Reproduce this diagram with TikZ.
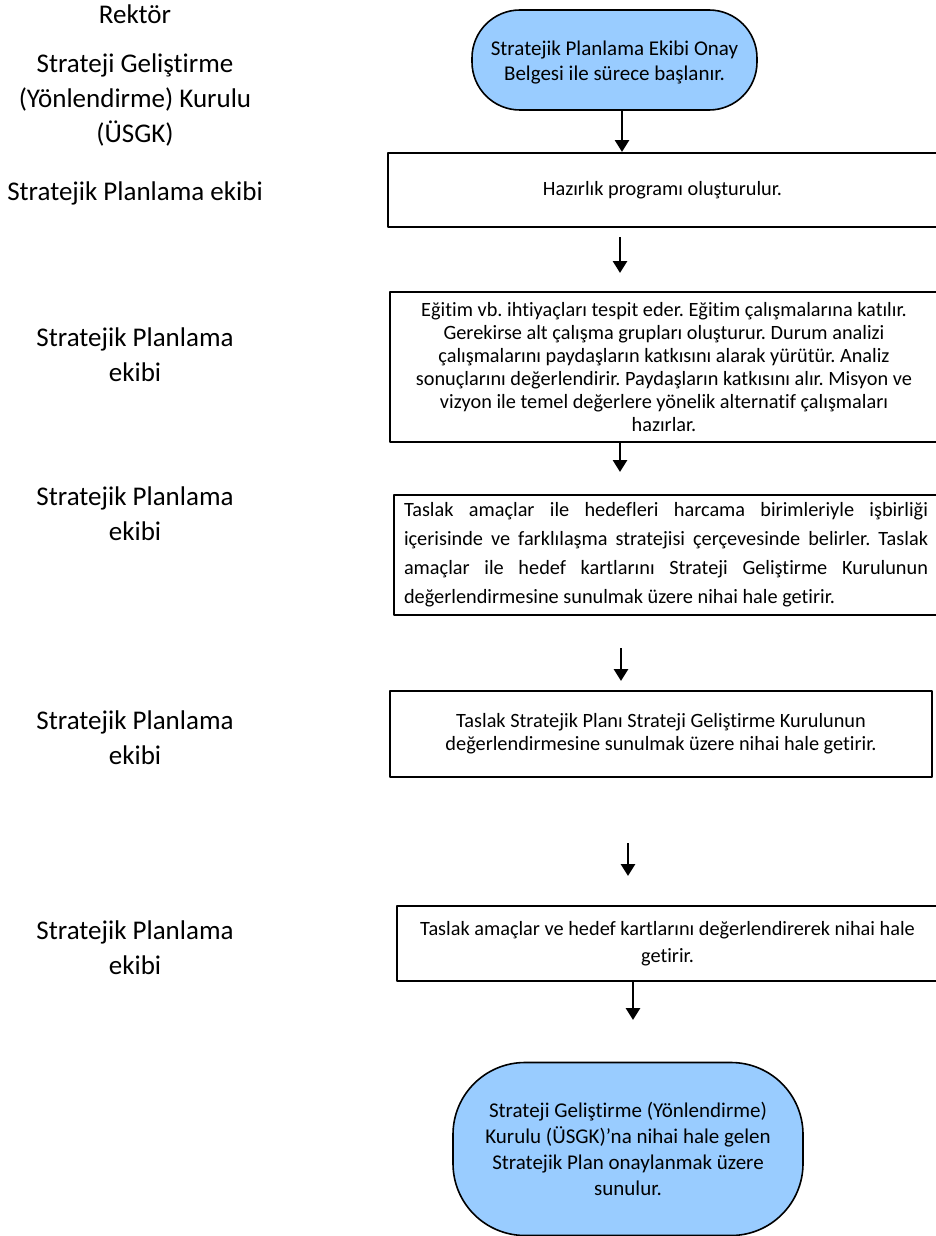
\documentclass[tikz,border=0pt]{standalone}
\usepackage{fontspec}
\setmainfont[Ligatures=NoCommon]{Carlito}
\usetikzlibrary{arrows.meta}
\definecolor{mavi}{RGB}{153,204,255}
\frenchspacing
\begin{document}
\begin{tikzpicture}[x=1pt,y=-1pt,>={Triangle[width=14pt,length=12pt]}, line join=round]
	\tikzset{
		kutu/.style={draw,line width=1.6pt,inner sep=0pt,align=center,font=\fontsize{20.3}{23}\selectfont},
		uc/.style={kutu,fill=mavi},
		rol/.style={align=center,font=\fontsize{27}{35}\selectfont},
		ok/.style={->,line width=2.8pt}
	}
	\useasboundingbox (0,0) rectangle (936,1236);
	
	% sol sutun
	\node[rol] (r1) at (135,14) {Rektör};
	\node[rol] (r2) at (135,100) {Strateji Geliştirme\\(Yönlendirme) Kurulu\\(ÜSGK)};
	\node[rol] (r3) at (135,193) {Stratejik Planlama ekibi};
	\node[rol] (r4) at (135,354.5) {Stratejik Planlama\\ekibi};
	\node[rol] (r5) at (135,514) {Stratejik Planlama\\ekibi};
	\node[rol] (r6) at (135,737.5) {Stratejik Planlama\\ekibi};
	\node[rol] (r7) at (135,947.5) {Stratejik Planlama\\ekibi};
	
	% akis
	\node[uc,minimum width=285pt,minimum height=100pt,rounded corners=48pt,font=\fontsize{21}{25}\selectfont] (t1) at (614.5,60) {\\[-6pt]Stratejik Planlama Ekibi Onay\\Belgesi ile sürece başlanır.};
	\node[kutu,minimum width=549pt,minimum height=74pt] (k1) at (662.5,190) {Hazırlık programı oluşturulur.};
	\node[kutu,minimum width=548pt,minimum height=150pt] (k2) at (664,367) {Eğitim vb. ihtiyaçları tespit eder. Eğitim çalışmalarına katılır.\\Gerekirse alt çalışma grupları oluşturur. Durum analizi\\çalışmalarını paydaşların katkısını alarak yürütür. Analiz\\sonuçlarını değerlendirir. Paydaşların katkısını alır. Misyon ve\\vizyon ile temel değerlere yönelik alternatif çalışmaları\\hazırlar.};
	\node[kutu,minimum width=544pt,minimum height=120pt,align=left,font=\fontsize{20.3}{29}\selectfont] (k3) at (666,555) {\makebox[524pt][s]{Taslak amaçlar ile hedefleri harcama birimleriyle işbirliği}\\\makebox[524pt][s]{içerisinde ve farklılaşma stratejisi çerçevesinde belirler. Taslak}\\\makebox[524pt][s]{amaçlar ile hedef kartlarını Strateji Geliştirme Kurulunun}\\\makebox[524pt][l]{değerlendirmesine sunulmak üzere nihai hale getirir.}};
	\node[kutu,minimum width=542pt,minimum height=86pt] (k4) at (661,734) {Taslak Stratejik Planı Strateji Geliştirme Kurulunun\\değerlendirmesine sunulmak üzere nihai hale getirir.};
	\node[kutu,minimum width=541pt,minimum height=75pt,font=\fontsize{20.3}{27}\selectfont] (k5) at (667.5,943.5) {Taslak amaçlar ve hedef kartlarını değerlendirerek nihai hale\\getirir.};
	\node[uc,minimum width=350pt,minimum height=173pt,rounded corners=72pt,font=\fontsize{21}{26}\selectfont] (t2) at (628,1149) {Strateji Geliştirme (Yönlendirme)\\Kurulu (ÜSGK)’na nihai hale gelen\\Stratejik Plan onaylanmak üzere\\sunulur.};
	
	% oklar
	\foreach \n/\x/\ya/\yb in {1/622/110/152, 2/620/237/273, 3/620/442/472, 4/621/648/681, 5/628/843/876, 6/633/981/1020}{
		\coordinate (s\n) at (\x,\ya);
		\coordinate (e\n) at (\x,\yb);
		\draw[ok] (s\n) -- (e\n);
	}
\end{tikzpicture}
\end{document}
